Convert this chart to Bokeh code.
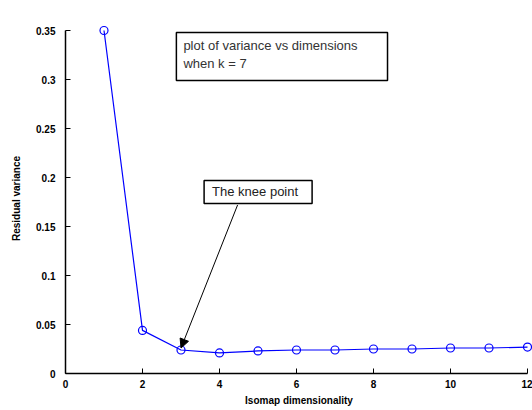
from bokeh.plotting import figure
from bokeh.models import Range1d, Label, Arrow, NormalHead, FixedTicker
from bokeh.embed import file_html
from bokeh.resources import INLINE

dims = [1, 2, 3, 4, 5, 6, 7, 8, 9, 10, 11, 12]
resid = [0.350, 0.044, 0.024, 0.021, 0.023, 0.024, 0.024, 0.025, 0.025, 0.026, 0.026, 0.027]
x_ticks = [0, 2, 4, 6, 8, 10, 12]
y_ticks = [0, 0.05, 0.1, 0.15, 0.2, 0.25, 0.3, 0.35]
y_tick_labels = ["0", "0.05", "0.1", "0.15", "0.2", "0.25", "0.3", "0.35"]
note_text = "plot of variance vs dimensions\nwhen k  =  7"
knee_text = "The knee point"
knee_dim = 3

p = figure(width=532, height=410, output_backend="svg", toolbar_location=None,
           x_range=Range1d(0, 467 / 38.5), y_range=Range1d(0, 350 / 980),
           frame_width=467, frame_height=350,
           min_border_left=65, min_border_right=0, min_border_top=23, min_border_bottom=37)
p.outline_line_color = None
p.xgrid.visible = False
p.ygrid.visible = False
p.background_fill_color = "white"

p.line(dims, resid, line_color="#0000ff", line_width=1.2)
p.scatter(dims, resid, marker="circle", size=8, fill_color=None, line_color="#0000ff", line_width=1.2)

for ax in (p.xaxis[0], p.yaxis[0]):
    ax.axis_line_color = "black"
    ax.axis_line_width = 1.5
    ax.major_tick_in = 5
    ax.major_tick_out = 0
    ax.minor_tick_line_color = None
    ax.major_tick_line_color = "black"
    ax.major_label_text_font = "Liberation Sans"
    ax.major_label_text_font_style = "bold"
    ax.major_label_text_font_size = "10px"
    ax.major_label_text_color = "black"
    ax.axis_label_text_font = "Liberation Sans"
    ax.axis_label_text_font_style = "bold"
    ax.axis_label_text_font_size = "10px"
    ax.axis_label_text_color = "black"

p.xaxis.bounds = (0, 12)
p.yaxis.bounds = (0, 0.35)
p.xaxis.ticker = FixedTicker(ticks=x_ticks)
p.yaxis.ticker = FixedTicker(ticks=y_ticks)
p.yaxis.major_label_overrides = {t: l for t, l in zip(y_ticks, y_tick_labels)}
p.xaxis.axis_label = "Isomap dimensionality"
p.yaxis.axis_label = "Residual variance"
p.xaxis.major_label_standoff = 6
p.yaxis.major_label_standoff = 10
p.xaxis.axis_label_standoff = 4
p.yaxis.axis_label_standoff = 11

note = Label(x=2.88, y=0.348, text=note_text, anchor="top_left",
             text_font="Liberation Sans", text_font_size="13px", text_color="#333333",
             border_line_color="black", border_line_width=1.5,
             background_fill_color="white",
             padding=dict(left=7, right=30, top=6, bottom=9))
p.add_layout(note)

knee = Label(x=3.6, y=0.197, text=knee_text, anchor="top_left",
             text_font="Liberation Sans", text_font_size="13px", text_color="#222222",
             border_line_color="black", border_line_width=1.5,
             background_fill_color="white",
             padding=dict(left=8, right=14, top=4, bottom=4))
p.add_layout(knee)

p.add_layout(Arrow(x_start=4.47, y_start=0.172, x_end=knee_dim, y_end=resid[knee_dim - 1] + 0.002,
                   line_color="black", line_width=1,
                   end=NormalHead(size=9, fill_color="black", line_color="black")))

open("out.html", "w").write(file_html(p, INLINE))
